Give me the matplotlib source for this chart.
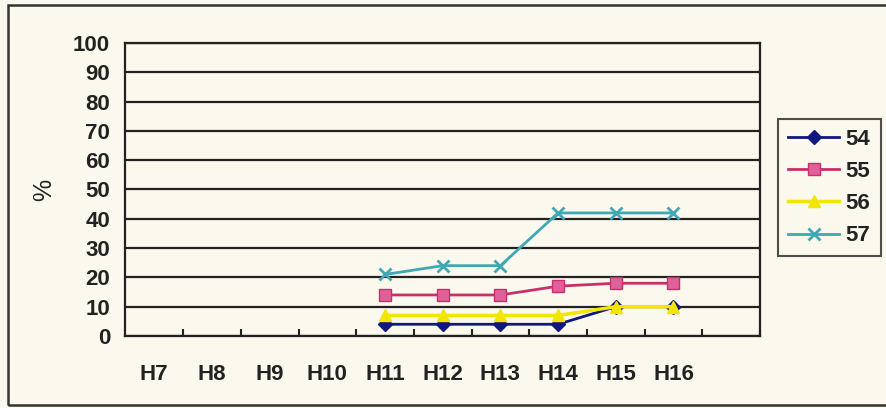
import numpy as np
import matplotlib.pyplot as plt
from matplotlib.patches import Rectangle

hours = ["H7", "H8", "H9", "H10", "H11", "H12", "H13", "H14", "H15", "H16", ""]
nan = np.nan
s54 = [nan, nan, nan, nan, 4, 4, 4, 4, 10, 10, nan]
s55 = [nan, nan, nan, nan, 14, 14, 14, 17, 18, 18, nan]
s56 = [nan, nan, nan, nan, 7, 7, 7, 7, 10, 10, nan]
s57 = [nan, nan, nan, nan, 21, 24, 24, 42, 42, 42, nan]
yticks = list(range(0, 101, 10))

bg = "#fbf9ee"
ink = "#222222"
plt.rcParams["font.family"] = ["Liberation Sans", "DejaVu Sans"]
plt.rcParams["font.weight"] = "bold"

fig = plt.figure(figsize=(8.86, 4.08), dpi=100, facecolor=bg)
ax = fig.add_axes([0.1416, 0.1765, 0.7162, 0.7181], facecolor=bg)

x = np.arange(len(hours))
ax.plot(x, s54, color="#101880", lw=2, marker="D", ms=7, mfc="#101880", mec="#101880", label="54")
ax.plot(x, s55, color="#c8306a", lw=2, marker="s", ms=9, mfc="#e0609a", mec="#c8306a", label="55")
ax.plot(x, s56, color="#f2e600", lw=2.5, marker="^", ms=9, mfc="#f2e600", mec="#f2e600", label="56")
ax.plot(x, s57, color="#40a8b4", lw=2, marker="x", ms=9, mew=2, label="57")

ax.set_xlim(-0.5, len(hours) - 0.5)
ax.set_ylim(0, 100)
ax.set_yticks(yticks)
ax.yaxis.grid(True, color=ink, lw=1.6)
ax.set_axisbelow(True)
ax.tick_params(axis="y", length=0, labelsize=16, pad=11, colors=ink)

ax.set_xticks(x)
ax.set_xticklabels(hours)
ax.set_xticks(np.arange(len(hours)) + 0.5, minor=True)
ax.tick_params(axis="x", which="major", length=0, labelsize=16, pad=20, colors=ink)
ax.tick_params(axis="x", which="minor", direction="in", length=5, width=1.5, color=ink)
for s in ax.spines.values():
    s.set_color(ink)
    s.set_linewidth(1.6)

ax.set_ylabel("%", fontsize=18, labelpad=12, color=ink)

leg = fig.legend(loc="upper left", bbox_to_anchor=(778 / 886, 1 - 119 / 408),
                 fontsize=16, frameon=True, fancybox=False, handlelength=2.3,
                 labelspacing=0.5, handletextpad=0.3, borderpad=0.45,
                 borderaxespad=0)
leg.get_frame().set_edgecolor(ink)
leg.get_frame().set_linewidth(1.5)
leg.get_frame().set_facecolor(bg)
for t in leg.get_texts():
    t.set_color(ink)

# outer chart border
fig.patches.append(Rectangle((8 / 886, 3 / 408), 1.2, 400 / 408, transform=fig.transFigure,
                             fill=False, ec="#333333", lw=1.8))

fig.savefig("out.png", dpi=100, facecolor=bg)
